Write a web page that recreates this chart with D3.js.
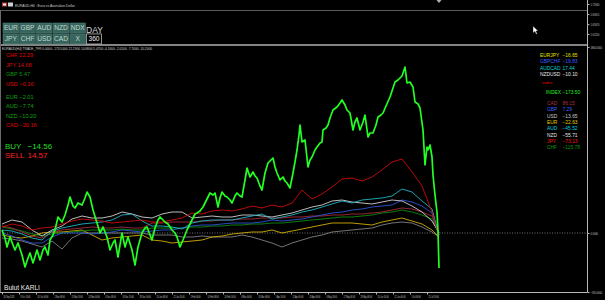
<!DOCTYPE html>
<html>
<head>
<meta charset="utf-8">
<script src="https://cdn.jsdelivr.net/npm/d3@7"></script>
<style>
  html, body { margin: 0; padding: 0; background: #000; }
  svg { display: block; font-family: "Liberation Sans", Arial, sans-serif; }
</style>
</head>
<body>
<script>
// ---- data ----
// bar offsets (one unit = one screen column of H4 bars)
const thinBars = [0,10,20,30,40,50,60,70,80,90,100,110,120,130,140,150,160,170,180,190,200,210,
  220,230,240,250,260,270,280,290,300,310,320,330,340,350,360,370,380,390,400,410,420,430,437];

const jpyLine  = [60,90,70,30,50,60,90,120,140,130,120,100,110,120,130,110,110,130,150,200,190,220,
  230,220,240,270,250,280,260,300,430,340,390,460,540,550,520,560,630,710,740,610,470,210,-40];
const audLine  = [30,20,-10,-50,-70,20,50,70,90,100,110,130,180,190,120,70,70,60,40,100,120,130,
  130,130,150,170,190,140,160,180,210,230,260,290,320,300,330,340,350,370,440,410,320,240,-20];
const nzdLine  = [90,130,110,30,-30,30,70,140,170,150,150,170,210,190,160,150,190,210,210,150,160,170,
  160,160,180,180,170,160,180,200,230,260,280,320,330,310,300,290,310,330,320,270,210,120,0];
const gbpLine  = [0,-30,-70,-100,-100,-40,0,0,0,-10,0,10,30,20,10,20,30,30,50,70,80,80,
  90,100,100,100,110,130,120,130,140,160,180,200,210,230,240,260,270,280,330,310,270,200,-20];
const chfLine  = [60,40,20,-10,-30,-10,0,10,20,30,30,30,40,30,30,50,50,50,50,60,60,70,
  70,80,80,90,90,100,100,110,120,130,140,150,160,160,170,180,200,210,230,210,180,140,0];
const cadLine  = [70,50,10,-30,-50,10,30,40,50,60,50,50,60,50,50,100,100,110,110,110,120,120,
  130,130,140,140,150,150,150,160,160,170,170,180,180,190,190,200,210,230,250,240,210,170,0];
const eurLine  = [-20,-40,-50,-30,0,10,10,20,30,-20,-70,-50,-40,-30,-20,-70,-80,-100,-90,-80,-70,-40,
  -30,-10,0,10,10,30,0,20,40,60,80,100,100,100,90,80,110,130,150,120,90,30,-40];
const usdLine  = [-50,-60,-80,-110,-140,-80,-160,-50,0,0,0,0,0,0,0,-20,-20,-20,-40,-40,-30,-40,
  -40,-40,-20,-40,-70,-100,-140,-100,-70,-40,-20,10,20,30,40,50,80,100,110,100,60,10,-40];

const indexBars = [0,3,5,8,11,13,16,20,23,26,28,31,35,38,41,43,46,48,51,53,56,60,63,66,68,71,73,76,
  80,83,85,88,91,95,98,101,105,108,111,113,116,120,123,126,130,133,136,140,143,145,148,150,153,156,
  158,161,163,166,170,173,175,178,181,185,188,190,193,195,198,201,204,208,211,213,216,218,220,223,
  225,228,230,233,235,238,240,243,245,248,251,253,255,258,260,263,266,269,271,273,275,278,281,283,
  285,288,291,293,295,297,298,300,303,306,308,310,313,315,318,320,321,324,326,328,331,335,338,340,
  343,345,348,351,353,355,358,361,363,366,368,371,374,376,379,381,384,388,391,393,396,398,400,403,
  405,408,411,413,416,418,421,423,425,426,428,430,431,433,435,436,437];
const indexLine = [30,-50,-140,-40,-120,-170,-100,-220,-340,-250,-200,-300,-170,-270,-170,-140,-220,
  -70,-20,30,160,110,180,280,360,270,250,300,280,350,410,360,230,100,0,60,-40,-170,-100,-70,-240,0,
  -140,-40,-170,-320,-140,0,50,60,-20,-70,50,130,160,130,110,90,30,0,-40,-140,-70,30,90,130,190,200,
  220,260,320,400,380,400,260,350,410,370,360,330,300,370,400,370,360,530,650,560,610,570,550,470,
  430,600,700,730,750,660,600,530,560,520,500,450,600,710,830,980,1080,910,930,660,730,760,830,860,
  900,910,1030,1050,1080,1150,1230,1260,1300,1330,1280,1230,1200,1030,1110,1150,1030,1110,1180,960,
  1000,1000,1080,1160,1180,1200,1270,1360,1450,1510,1530,1550,1570,1660,1500,1510,1460,1310,1290,
  1250,1030,680,860,830,880,760,580,380,210,10,-350];

const dateBars = [0,17,34,51,68,85,102,119,136,153,170,187,204,221,238,255,272,289,306,323,340,357,374,391,408,425];
const dateLabels = ["26 Sep 2023","9 Oct 16:00","20 Oct 00:00","1 Nov 08:00","13 Nov 16:00","24 Nov 00:00",
  "6 Dec 08:00","18 Dec 16:00","29 Dec 00:00","10 Jan 08:00","22 Jan 16:00","2 Feb 00:00","14 Feb 08:00",
  "26 Feb 16:00","8 Mar 00:00","20 Mar 08:00","1 Apr 16:00","12 Apr 00:00","24 Apr 08:00","6 May 16:00",
  "17 May 00:00","29 May 08:00","10 Jun 16:00","21 Jun 00:00","3 Jul 08:00","15 Jul 16:00"];

const priceTicks = [1.72940, 1.69015, 1.65070, 1.61250];
const indTicks = [1860, 0, -590];

const buttonsTop = ["EUR","GBP","AUD","NZD","NDX"];
const buttonsBottom = ["JPY","CHF","USD","CAD","X"];

const leftNames = ["CHF","JPY","GBP","USD","EUR","AUD","NZD","CAD"];
const leftValues = [22.29, 14.68, 5.47, -0.16, -2.01, -7.74, -10.20, -20.16];
const tradeNames = ["BUY","SELL"];
const tradeValues = [-14.56, 14.57];

const pairNames = ["EURJPY","GBPCHF","AUDCAD","NZDUSD"];
const pairValues = [-16.65, -19.83, 17.44, -10.10];
const indexValue = -173.50;
const strengthNames = ["CAD","GBP","USD","EUR","AUD","NZD","JPY","CHF"];
const strengthValues = [86.15, 7.29, -13.65, -22.63, -45.52, -55.71, -73.13, -115.78];

// ---- styles ----
const lineColor = {JPY:"#cf0a0a", CAD:"#a52a3a", AUD:"#1fb3c4", NZD:"#d0d0d0", GBP:"#2f55d4",
  CHF:"#0b8a0b", EUR:"#cfae00", USD:"#808080"};
const leftColor = {CHF:"#e00000", JPY:"#d41010", GBP:"#0a960a", USD:"#e00000", EUR:"#0fa00f",
  AUD:"#0fa00f", NZD:"#0fa00f", CAD:"#e00000"};
const pairColor = {EURJPY:"#e6e600", GBPCHF:"#3a5cff", AUDCAD:"#00d2d2", NZDUSD:"#e8e8e8"};
const strengthColor = {CAD:"#b03040", GBP:"#3a5cff", USD:"#c8c8c8", EUR:"#e0d000", AUD:"#00d0e0",
  NZD:"#e8e8e8", JPY:"#ff1010", CHF:"#119911"};

const [w, h] = [605, 300];
const svg = d3.select('body').append('svg').attr('width', w).attr('height', h);
svg.append('rect').attr('width', w).attr('height', h).attr('fill', '#000');

const x = d3.scaleLinear().domain([0, 585]).range([2, 587]);
const y = d3.scaleLinear().domain([-590, 1860]).range([292, 47]);
const priceY = d3.scaleLinear().domain([1.61250, 1.72940]).range([34, 4]);

// window title
svg.append('rect').attr('x', 2).attr('y', 2.5).attr('width', 5).attr('height', 4).attr('fill', '#c03030');
svg.append('rect').attr('x', 3).attr('y', 3.5).attr('width', 3).attr('height', 2).attr('fill', '#f0f0f0');
svg.append('rect').attr('x', 8).attr('y', 2.5).attr('width', 5).attr('height', 4).attr('fill', '#d0d0d0');
svg.append('text').attr('x', 15).attr('y', 6.5).attr('font-size', 4).attr('fill', '#cfcfcf')
  .attr('textLength', 60).attr('lengthAdjust', 'spacingAndGlyphs')
  .text('EURAUD,H4 : Euro vs Australian Dollar');

// frame
const frame = svg.append('g').attr('stroke', '#9a9a9a').attr('fill', 'none');
frame.append('line').attr('x1', 0).attr('x2', 587).attr('y1', 10.5).attr('y2', 10.5).attr('stroke', '#5a5a5a');
frame.append('line').attr('x1', 0).attr('x2', 587).attr('y1', 45).attr('y2', 45).attr('stroke-width', 1.5).attr('stroke', '#b0b0b0');
frame.append('line').attr('x1', 587.5).attr('x2', 587.5).attr('y1', 0).attr('y2', 292.5).attr('stroke', '#b8b8b8');
frame.append('line').attr('x1', 0.5).attr('x2', 0.5).attr('y1', 10).attr('y2', 292.5).attr('stroke', '#6a6a6a');
svg.append('path').attr('d', 'M436.5,0 L441.5,0 L439,3 Z').attr('fill', '#b0b0b0');

// right-hand axes (top pane price, indicator); the terminal font is narrow, so squeeze horizontally
function styleRightAxis(g) {
  g.select('.domain').remove();
  g.selectAll('line').attr('stroke', '#b8b8b8');
  g.selectAll('text').attr('font-size', 3.4).attr('fill', '#c8c8c8')
    .attr('transform', 'scale(0.72,1)').attr('x', 3 / 0.72);
}
svg.append('g').attr('transform', 'translate(587.5,0)')
  .call(d3.axisRight(priceY).tickValues(priceTicks).tickFormat(d3.format('.5f')).tickSize(2))
  .call(styleRightAxis);
svg.append('g').attr('transform', 'translate(587.5,0)')
  .call(d3.axisRight(y).tickValues(indTicks).tickFormat(d3.format('.4f')).tickSize(2))
  .call(styleRightAxis);

// time axis
const timeAxis = svg.append('g').attr('transform', 'translate(0,292.5)')
  .call(d3.axisBottom(x).tickValues(dateBars).tickFormat((d, i) => dateLabels[i]).tickSize(2));
timeAxis.select('.domain').attr('stroke', '#b8b8b8').attr('d', 'M0,0H587.5');
timeAxis.selectAll('line').attr('stroke', '#b8b8b8');
timeAxis.selectAll('text').attr('font-size', 3.3).attr('fill', '#c8c8c8')
  .attr('text-anchor', 'start').attr('transform', 'scale(0.58,1)').attr('x', 1 / 0.58)
  .attr('y', 3).attr('dy', '0.71em');

// zero line
svg.append('line').attr('x1', 2).attr('x2', 587).attr('y1', y(0)).attr('y2', y(0))
  .attr('stroke', '#8a8a8a').attr('stroke-width', 0.8).attr('stroke-dasharray', '1,1.5');

// currency lines
const thinSeries = [
  ['USD', usdLine], ['EUR', eurLine], ['CHF', chfLine], ['CAD', cadLine],
  ['GBP', gbpLine], ['NZD', nzdLine], ['AUD', audLine], ['JPY', jpyLine]
];
const thinPath = d3.line().x((d, i) => x(thinBars[i])).y(d => y(d));
svg.append('g').selectAll('path').data(thinSeries).enter().append('path')
  .attr('d', d => thinPath(d[1]))
  .attr('fill', 'none')
  .attr('stroke', d => lineColor[d[0]])
  .attr('stroke-width', 0.9);

const indexPath = d3.line().x((d, i) => x(indexBars[i])).y(d => y(d));
svg.append('path').attr('d', indexPath(indexLine))
  .attr('fill', 'none').attr('stroke', '#22ff22').attr('stroke-width', 1.7)
  .attr('stroke-linejoin', 'round');

// buttons
const bx = d3.scaleBand().domain(d3.range(5)).range([3, 85.5]).paddingInner(0.06);
const by = d3.scaleBand().domain([0, 1]).range([23, 44]).paddingInner(0.08);
[buttonsTop, buttonsBottom].forEach((row, r) => {
  const g = svg.append('g');
  row.forEach((label, i) => {
    g.append('rect').attr('x', bx(i)).attr('y', by(r)).attr('width', bx.bandwidth()).attr('height', by.bandwidth())
      .attr('fill', '#35655c').attr('stroke', '#5b8a80').attr('stroke-width', 0.5);
    g.append('text').attr('x', bx(i) + bx.bandwidth() / 2).attr('y', by(r) + by.bandwidth() / 2 + 2.4)
      .attr('text-anchor', 'middle').attr('font-size', 6.6).attr('fill', '#c4d6d0').text(label);
  });
});
svg.append('text').attr('x', 86).attr('y', 32.5).attr('font-size', 8.5).attr('fill', '#d8d8d8').text('DAY');
svg.append('rect').attr('x', 86.5).attr('y', by(1)).attr('width', 15).attr('height', by.bandwidth())
  .attr('fill', '#000').attr('stroke', '#cfcfcf').attr('stroke-width', 0.7);
svg.append('text').attr('x', 94).attr('y', by(1) + by.bandwidth() / 2 + 2.4).attr('text-anchor', 'middle')
  .attr('font-size', 6.6).attr('fill', '#f0f0f0').text('360');

// indicator short name line
svg.append('text').attr('x', 2).attr('y', 49.5).attr('font-size', 3.6).attr('fill', '#d8d8d8')
  .attr('textLength', 150).attr('lengthAdjust', 'spacingAndGlyphs')
  .text('EURAUD(H4) TRADE_TFR 0.0000 -173.5000 22.2900 14.6800 5.4700 -0.1600 -2.0100 -7.7400 -10.2000');

// left panel
const fmt = d3.format('.2f');
const leftG = svg.append('g').attr('font-size', 5.6);
leftNames.forEach((n, i) => {
  leftG.append('text').attr('x', 6).attr('y', 57.2 + i * 9.5 + (i >= 4 ? 3.6 : 0))
    .attr('fill', leftColor[n]).text(n + ' ' + fmt(leftValues[i]));
});
const tradeColor = ['#22dd22', '#ff2020'];
tradeNames.forEach((n, i) => {
  svg.append('text').attr('x', 5).attr('y', 149 + i * 9.2).attr('font-size', 8)
    .attr('fill', tradeColor[i]).text(n);
  svg.append('text').attr('x', 27.5).attr('y', 149 + i * 9.2).attr('font-size', 8)
    .attr('fill', tradeColor[i]).text(fmt(tradeValues[i]));
});

// right panel
const rightG = svg.append('g').attr('font-size', 4.9);
pairNames.forEach((n, i) => {
  rightG.append('text').attr('x', 540).attr('y', 57 + i * 6.3).attr('fill', pairColor[n]).text(n);
  rightG.append('text').attr('x', 562.5).attr('y', 57 + i * 6.3).attr('fill', pairColor[n]).text(fmt(pairValues[i]));
});
svg.append('text').attr('x', 542).attr('y', 84).attr('font-size', 4.4).attr('fill', '#e00000').text('index');
rightG.append('text').attr('x', 546).attr('y', 94).attr('fill', '#22ee22').text('INDEX');
rightG.append('text').attr('x', 562.5).attr('y', 94).attr('fill', '#22ee22').text(fmt(indexValue));
strengthNames.forEach((n, i) => {
  rightG.append('text').attr('x', 547).attr('y', 105 + i * 6.3).attr('fill', strengthColor[n]).text(n);
  rightG.append('text').attr('x', 562.5).attr('y', 105 + i * 6.3).attr('fill', strengthColor[n]).text(fmt(strengthValues[i]));
});

// footer label
svg.append('text').attr('x', 4).attr('y', 289.5).attr('font-size', 6.6).attr('fill', '#e8e8e8').text('Bulut KARLI');

// mouse pointer left in the screenshot
svg.append('path').attr('transform', 'translate(533,26)')
  .attr('d', 'M0,0 L0,7 L1.8,5.4 L3.2,8.2 L4.3,7.7 L3,5 L5.2,5 Z')
  .attr('fill', '#fff').attr('stroke', '#000').attr('stroke-width', 0.4);
</script>
</body>
</html>
